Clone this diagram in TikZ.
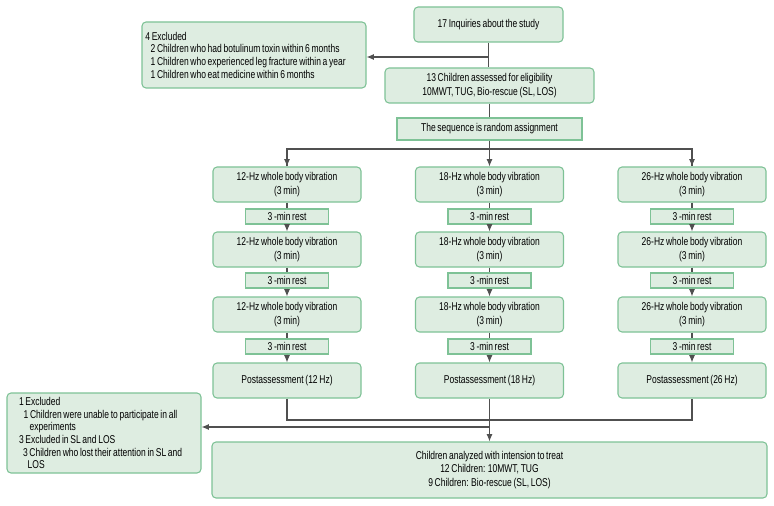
\documentclass[tikz,border=0pt]{standalone}
\usepackage{fontspec}
\setmainfont{Liberation Sans}[FakeStretch=0.75,WordSpace=0.72]
\usetikzlibrary{arrows.meta}

\definecolor{boxfill}{RGB}{222,237,225}
\definecolor{boxline}{RGB}{126,194,150}
\definecolor{linkgray}{RGB}{80,80,80}

\tikzset{every picture/.style={line width=0.75pt}}
\tikzset{
	roundbox/.style={draw=boxline, fill=boxfill, rounded corners=3pt, line width=0.8pt, inner sep=0pt, align=center, font=\fontsize{8.5}{10.2}\selectfont},
	flatbox/.style={roundbox, rounded corners=0pt},
	vibbox/.style={roundbox, minimum width=111pt, minimum height=26.25pt},
	restbox/.style={flatbox, minimum width=62.25pt, minimum height=11.25pt},
	listbox/.style={roundbox, align=left, inner xsep=2.5pt, font=\fontsize{8.5}{9.5}\selectfont, execute at begin node={\spaceskip=0pt\xspaceskip=0pt\relax}},
	link/.style={draw=linkgray, line width=0.8pt},
	linkarrow/.style={link, -{Latex[length=5.5pt,width=4.5pt]}}
}

\begin{document}
\begin{tikzpicture}[x=0.75pt,y=0.75pt,yscale=-1,xscale=1]
			\useasboundingbox (0,0) rectangle (774,506);
			%Shape: Rectangle [inquiries]
			\node[roundbox, minimum width=111.75pt, minimum height=26.25pt] (inq) at (488.5,24.5) {17 Inquiries about the study};
			%Shape: Rectangle [first exclusion]
			\node[listbox, text width=163pt, minimum height=49.5pt] (exclA) at (254,55) {4 Excluded\\
				\hspace*{4pt}2 Children who had botulinum toxin within 6 months\\
				\hspace*{4pt}1 Children who experienced leg fracture within a year\\
				\hspace*{4pt}1 Children who eat medicine within 6 months};
			%Shape: Rectangle [eligibility]
			\node[roundbox, minimum width=156.75pt, minimum height=26.25pt] (elig) at (489.5,85.5) {13 Children assessed for eligibility\\10MWT, TUG, Bio-rescue (SL, LOS)};
			%Shape: Rectangle [random]
			\node[flatbox, minimum width=138.75pt, minimum height=16.5pt] (rand) at (489.5,129) {The sequence is random assignment};

			% 12 Hz column
			\node[vibbox] (v12a) at (287,184.5) {12-Hz whole body vibration\\(3 min)};
			\node[restbox] (r12a) at (287,216.5) {3 -min rest};
			\node[vibbox] (v12b) at (287,249.5) {12-Hz whole body vibration\\(3 min)};
			\node[restbox] (r12b) at (287,280.5) {3 -min rest};
			\node[vibbox] (v12c) at (287,314.5) {12-Hz whole body vibration\\(3 min)};
			\node[restbox] (r12c) at (287,346.5) {3 -min rest};
			\node[vibbox] (p12) at (287,380.5) {Postassessment (12 Hz)};
			% 18 Hz column
			\node[vibbox] (v18a) at (489.5,184.5) {18-Hz whole body vibration\\(3 min)};
			\node[restbox] (r18a) at (489.5,216.5) {3 -min rest};
			\node[vibbox] (v18b) at (489.5,249.5) {18-Hz whole body vibration\\(3 min)};
			\node[restbox] (r18b) at (489.5,280.5) {3 -min rest};
			\node[vibbox] (v18c) at (489.5,314.5) {18-Hz whole body vibration\\(3 min)};
			\node[restbox] (r18c) at (489.5,346.5) {3 -min rest};
			\node[vibbox] (p18) at (489.5,380.5) {Postassessment (18 Hz)};
			% 26 Hz column
			\node[vibbox] (v26a) at (692,184.5) {26-Hz whole body vibration\\(3 min)};
			\node[restbox] (r26a) at (692,216.5) {3 -min rest};
			\node[vibbox] (v26b) at (692,249.5) {26-Hz whole body vibration\\(3 min)};
			\node[restbox] (r26b) at (692,280.5) {3 -min rest};
			\node[vibbox] (v26c) at (692,314.5) {26-Hz whole body vibration\\(3 min)};
			\node[restbox] (r26c) at (692,346.5) {3 -min rest};
			\node[vibbox] (p26) at (692,380.5) {Postassessment (26 Hz)};

			%Shape: Rectangle [second exclusion]
			\node[listbox, inner xsep=9pt, text width=127.5pt, minimum height=60pt] (exclB) at (104,433) {1 Excluded\\
				\hspace*{3.5pt}1 Children were unable to participate in all\\
				\hspace*{8pt}experiments\\
				3 Excluded in SL and LOS\\
				\hspace*{3pt}3 Children who lost their attention in SL and\\
				\hspace*{6.5pt}LOS};
			%Shape: Rectangle [analysis]
			\node[roundbox, minimum width=416.25pt, minimum height=42pt, font=\fontsize{8.5}{10}\selectfont] (final) at (489.5,470) {Children analyzed with intension to treat\\12 Children: 10MWT, TUG\\9 Children: Bio-rescue (SL, LOS)};

			% Connectors
			\coordinate (cutA) at (488.5,57);
			\coordinate (split) at (489.5,149);
			\coordinate (merge) at (489.5,420);
			\coordinate (cutB) at (489.5,427);
			\draw[link] (inq.south) -- (inq.south |- elig.north);
			\draw[linkarrow] (cutA) -- (cutA -| exclA.east);
			\draw[link] (elig) -- (rand);
			\draw[link] (v12a.north) |- (split) -| (v26a.north);
			\draw[linkarrow] (split -| v12a.north) -- (v12a.north);
			\draw[linkarrow] (rand.south) -- (v18a.north);
			\draw[linkarrow] (split -| v26a.north) -- (v26a.north);
			\draw[link] (v12a) -- (r12a);
			\draw[linkarrow] (r12a) -- (v12b);
			\draw[link] (v12b) -- (r12b);
			\draw[linkarrow] (r12b) -- (v12c);
			\draw[link] (v12c) -- (r12c);
			\draw[linkarrow] (r12c) -- (p12);
			\draw[link] (v18a) -- (r18a);
			\draw[linkarrow] (r18a) -- (v18b);
			\draw[link] (v18b) -- (r18b);
			\draw[linkarrow] (r18b) -- (v18c);
			\draw[link] (v18c) -- (r18c);
			\draw[linkarrow] (r18c) -- (p18);
			\draw[link] (v26a) -- (r26a);
			\draw[linkarrow] (r26a) -- (v26b);
			\draw[link] (v26b) -- (r26b);
			\draw[linkarrow] (r26b) -- (v26c);
			\draw[link] (v26c) -- (r26c);
			\draw[linkarrow] (r26c) -- (p26);
			\draw[link] (p12.south) |- (merge) -| (p26.south);
			\draw[linkarrow] (p18.south) -- (final.north);
			\draw[linkarrow] (cutB) -- (cutB -| exclB.east);

		\end{tikzpicture}
\end{document}
